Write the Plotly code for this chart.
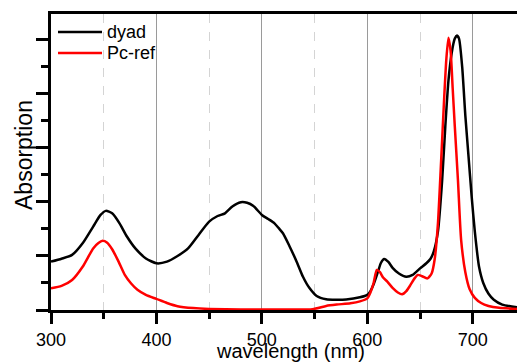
import plotly.graph_objects as go

# ---- data ----
dyad_wl = [300, 310, 320, 330, 340, 347, 352, 358, 365, 372, 380, 390, 400, 410, 420, 430,
           440, 450, 458, 465, 472, 480, 486, 492, 500, 506, 512, 516, 520, 526, 533, 539,
           545, 552, 561, 570, 580, 593, 600, 603, 606, 610, 613, 616, 620, 624, 630, 637,
           643, 650, 656, 660, 663, 667, 671, 674, 677, 680, 683, 685, 687, 690, 693, 696,
           699, 702, 706, 710, 715, 720, 728, 742]
dyad_abs = [0.179, 0.19, 0.204, 0.247, 0.309, 0.352, 0.367, 0.358, 0.321, 0.272, 0.228, 0.191,
            0.173, 0.179, 0.2, 0.228, 0.278, 0.327, 0.348, 0.358, 0.383, 0.399, 0.397, 0.385,
            0.352, 0.337, 0.321, 0.303, 0.284, 0.238, 0.179, 0.123, 0.082, 0.052, 0.04, 0.038,
            0.039, 0.047, 0.056, 0.07, 0.095, 0.14, 0.175, 0.189, 0.178, 0.156, 0.135, 0.123,
            0.13, 0.154, 0.173, 0.19, 0.216, 0.29, 0.48, 0.68, 0.85, 0.95, 1.005, 1.016,
            1.005, 0.9, 0.72, 0.57, 0.42, 0.29, 0.16, 0.1, 0.06, 0.038, 0.02, 0.01]

pc_wl = [300, 310, 320, 330, 340, 345, 349, 353, 358, 364, 370, 376, 382, 390, 400, 410, 420,
         435, 450, 480, 520, 548, 561, 571, 584, 593, 600, 603, 606, 609, 612, 615, 619, 624,
         629, 633, 637, 641, 645, 648, 652, 657, 661, 664, 667, 670, 673, 675, 677, 679, 681,
         683, 686, 689, 693, 697, 702, 708, 715, 725, 742]
pc_abs = [0.08, 0.089, 0.111, 0.16, 0.228, 0.248, 0.256, 0.25, 0.225, 0.18, 0.13, 0.098, 0.075,
          0.056, 0.041, 0.026, 0.014, 0.007, 0.004, 0.002, 0.002, 0.003, 0.015, 0.02, 0.025,
          0.032, 0.043, 0.065, 0.1, 0.148, 0.14, 0.12, 0.105, 0.082, 0.065, 0.058, 0.07, 0.093,
          0.118, 0.13, 0.125, 0.117, 0.135, 0.19, 0.32, 0.55, 0.79, 0.93, 1.008, 0.96, 0.82,
          0.68, 0.48, 0.26, 0.14, 0.078, 0.045, 0.026, 0.015, 0.008, 0.004]

series_names = ["dyad", "Pc-ref"]
series_colors = ["black", "red"]
x_ticks = [300, 400, 500, 600, 700]
x_title = "wavelength (nm)"
y_title = "Absorption"

FONT = "Arial, 'Liberation Sans', sans-serif"

# plot area geometry (pixels) used to place the hand-drawn legend and axis titles
W, H = 517, 364
L, R, T, B = 51, 0, 14, 54
PW, PH = W - L - R, H - T - B


def px_x(p):
    return (p - L) / PW


def px_y(p):
    return (H - B - p) / PH


fig = go.Figure()
for wl, ab, name, col in [(dyad_wl, dyad_abs, series_names[0], series_colors[0]),
                          (pc_wl, pc_abs, series_names[1], series_colors[1])]:
    fig.add_trace(go.Scatter(x=wl, y=ab, mode="lines", name=name, showlegend=False,
                             line=dict(color=col, width=2.5, shape="spline", smoothing=0.6)))

# legend (drawn manually for exact spacing)
for i, (name, col) in enumerate(zip(series_names, series_colors)):
    yc = 32 + 21 * i
    fig.add_shape(type="line", xref="paper", yref="paper",
                  x0=px_x(58), x1=px_x(102), y0=px_y(yc), y1=px_y(yc),
                  line=dict(color=col, width=2.5))
    fig.add_annotation(xref="paper", yref="paper", x=px_x(105), y=px_y(yc),
                       xanchor="left", yanchor="middle", showarrow=False,
                       text=name, font=dict(size=18, family=FONT, color="black"))

# axis titles
fig.add_annotation(xref="paper", yref="paper", x=px_x(24), y=px_y(155),
                   xanchor="center", yanchor="middle", showarrow=False, textangle=-90,
                   text=y_title, font=dict(size=23, family=FONT, color="black"))
fig.add_annotation(xref="paper", yref="paper", x=px_x(290), y=px_y(351),
                   xanchor="center", yanchor="middle", showarrow=False,
                   text=x_title, font=dict(size=20, family=FONT, color="black"))

fig.update_layout(
    width=W, height=H,
    margin=dict(l=L, r=R, t=T, b=B, autoexpand=False),
    paper_bgcolor="white", plot_bgcolor="white",
    font=dict(family=FONT, color="black"),
    showlegend=False,
)
fig.update_xaxes(
    range=[300, 742], tickvals=x_ticks, ticktext=[str(v) for v in x_ticks],
    tickfont=dict(size=18), ticks="outside", ticklen=11, tickwidth=3, tickcolor="black",
    ticklabelstandoff=0, automargin=False,
    showline=True, linewidth=3, linecolor="black", mirror=True,
    showgrid=True, gridcolor="#9a9a9a", gridwidth=1,
    minor=dict(dtick=50, tick0=300, ticks="outside", ticklen=6, tickwidth=3, tickcolor="black",
               showgrid=True, gridcolor="#d4d4d4", gridwidth=1, griddash="dash"),
    zeroline=False,
)
fig.update_yaxes(
    range=[0, 1.096], dtick=0.2, tick0=0, showticklabels=False, automargin=False,
    ticks="outside", ticklen=12, tickwidth=3, tickcolor="black",
    showline=True, linewidth=3, linecolor="black", mirror=False,
    showgrid=False, zeroline=False,
    minor=dict(dtick=0.1, ticks="outside", ticklen=7, tickwidth=3, tickcolor="black", showgrid=False),
)

fig.write_html("out.html")
